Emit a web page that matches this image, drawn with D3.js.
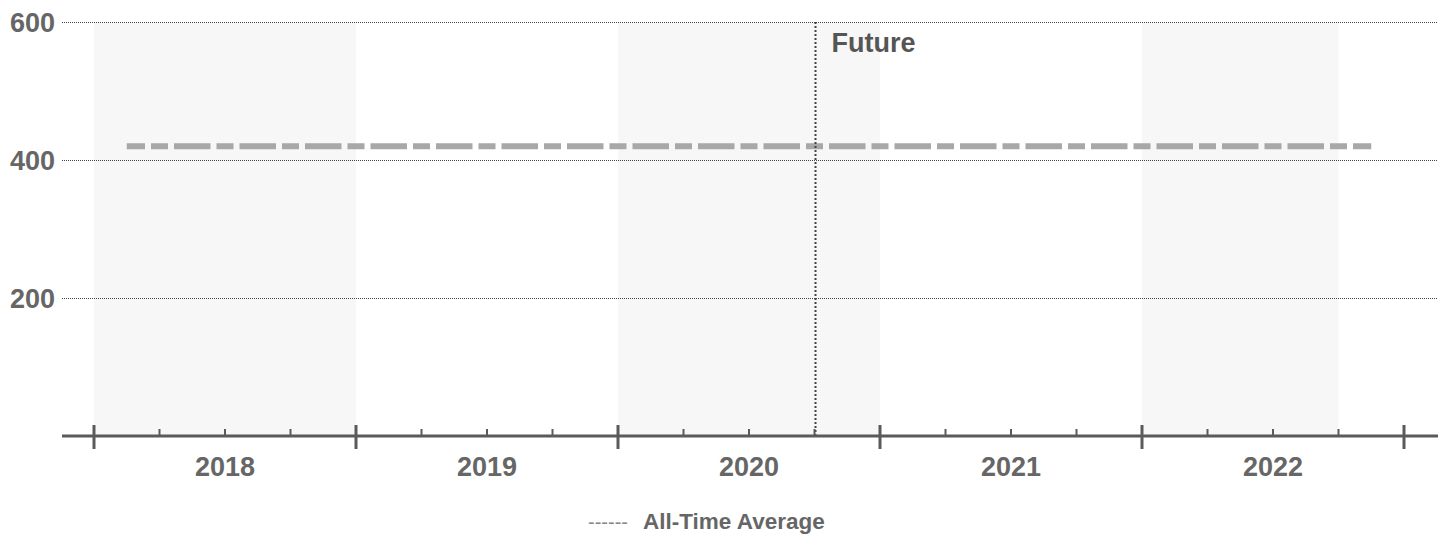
<!DOCTYPE html>
<html>
<head>
<meta charset="utf-8">
<script src="https://cdn.jsdelivr.net/npm/d3@7"></script>
<style>
  html, body { margin: 0; padding: 0; background: #fff; }
  svg { display: block; font-family: "Liberation Sans", Arial, sans-serif; }
</style>
</head>
<body>
<svg id="chart" width="1445" height="535"></svg>
<script>
// Calendar: five years split into quarters
const years = ["2018", "2019", "2020", "2021", "2022"];
const quarterNames = ["Q1", "Q2", "Q3", "Q4"];
const quarters = years.flatMap(y => quarterNames.map(q => `${y} ${q}`));

// Y axis tick values
const yTicks = [200, 400, 600];

// All-time average, one value per quarter
const averageValues = [420, 420, 420, 420, 420, 420, 420, 420, 420, 420,
                       420, 420, 420, 420, 420, 420, 420, 420, 420, 420];

// Alternating shaded year bands (first and last quarter of each)
const bandStart = ["2018 Q1", "2020 Q1", "2022 Q1"];
const bandEnd   = ["2018 Q4", "2020 Q4", "2022 Q3"];

// Forecast boundary: start of this quarter
const futureQuarter = "2020 Q4";
const futureLabel = "Future";
const legendLabel = "All-Time Average";

const svg = d3.select("#chart");
const axisColor = "#5a5a5a";
const textColor = "#666";

const x = d3.scaleBand().domain(quarters).range([94, 1404]).padding(0);
const y = d3.scaleLinear().domain([0, 600]).range([436, 22]);
const bw = x.bandwidth();
const gridLeft = 62, gridRight = 1438;

// Shaded year bands
svg.append("g").selectAll("rect")
  .data(bandStart.map((s, i) => ({ s, e: bandEnd[i] })))
  .join("rect")
  .attr("x", d => x(d.s))
  .attr("width", d => x(d.e) + bw - x(d.s))
  .attr("y", y(600))
  .attr("height", y(0) - y(600))
  .attr("fill", "#f7f7f7");

// Dotted horizontal gridlines (half-pixel offset keeps the dots crisp)
svg.append("g").selectAll("line")
  .data(yTicks)
  .join("line")
  .attr("x1", gridLeft).attr("x2", gridRight)
  .attr("y1", d => y(d) + 0.5).attr("y2", d => y(d) + 0.5)
  .attr("stroke", "#444")
  .attr("stroke-width", 1)
  .attr("stroke-dasharray", "1,1");

// Y tick labels
svg.append("g").selectAll("text")
  .data(yTicks)
  .join("text")
  .attr("x", 55)
  .attr("y", d => y(d))
  .attr("dy", "0.36em")
  .attr("text-anchor", "end")
  .attr("font-size", 27)
  .attr("font-weight", "bold")
  .attr("fill", textColor)
  .text(d => d);

// Average line through quarter centres; long dash on each quarter, short dash on boundaries
const period = bw;
const shortDash = 17, gap = 6, longDash = period - shortDash - 2 * gap;
const avgLine = d3.line()
  .x((d, i) => x(quarters[i]) + bw / 2)
  .y(d => y(d));
svg.append("path")
  .datum(averageValues)
  .attr("d", avgLine)
  .attr("fill", "none")
  .attr("stroke", "#a8a8a8")
  .attr("stroke-width", 6)
  .attr("stroke-dasharray", `${longDash},${gap},${shortDash},${gap}`)
  .attr("stroke-dashoffset", longDash / 2);

// Future marker
const fx = x(futureQuarter) + 1;
svg.append("line")
  .attr("x1", fx).attr("x2", fx)
  .attr("y1", y(600)).attr("y2", y(0))
  .attr("stroke", "#444")
  .attr("stroke-width", 2)
  .attr("stroke-dasharray", "2,2");
svg.append("text")
  .attr("x", fx + 16)
  .attr("y", 52)
  .attr("font-size", 27)
  .attr("font-weight", "bold")
  .attr("fill", "#555")
  .text(futureLabel);

// Bottom axis
const axisG = svg.append("g");
axisG.append("line")
  .attr("x1", gridLeft).attr("x2", gridRight)
  .attr("y1", y(0)).attr("y2", y(0))
  .attr("stroke", axisColor)
  .attr("stroke-width", 3);

// Minor ticks at quarter boundaries inside each year
axisG.append("g").selectAll("line")
  .data(quarters.filter((q, i) => i % 4 !== 0))
  .join("line")
  .attr("x1", d => x(d)).attr("x2", d => x(d))
  .attr("y1", y(0) - 7).attr("y2", y(0))
  .attr("stroke", axisColor)
  .attr("stroke-width", 2);

// Major ticks at year boundaries
const yearEdges = years.map(yr => x(`${yr} Q1`)).concat([x(quarters[quarters.length - 1]) + bw]);
axisG.append("g").selectAll("line")
  .data(yearEdges)
  .join("line")
  .attr("x1", d => d).attr("x2", d => d)
  .attr("y1", y(0) - 11).attr("y2", y(0) + 13)
  .attr("stroke", axisColor)
  .attr("stroke-width", 3);

// Year labels centred under each year
axisG.append("g").selectAll("text")
  .data(years)
  .join("text")
  .attr("x", yr => (x(`${yr} Q1`) + x(`${yr} Q4`) + bw) / 2)
  .attr("y", 476)
  .attr("text-anchor", "middle")
  .attr("font-size", 27)
  .attr("font-weight", "bold")
  .attr("fill", textColor)
  .text(d => d);

// Legend
const legend = svg.append("g");
legend.append("text")
  .attr("x", 588)
  .attr("y", 529)
  .attr("font-size", 20)
  .attr("fill", "#888")
  .text("------");
legend.append("text")
  .attr("x", 643)
  .attr("y", 529)
  .attr("font-size", 22.5)
  .attr("font-weight", "bold")
  .attr("fill", textColor)
  .text(legendLabel);
</script>
</body>
</html>
